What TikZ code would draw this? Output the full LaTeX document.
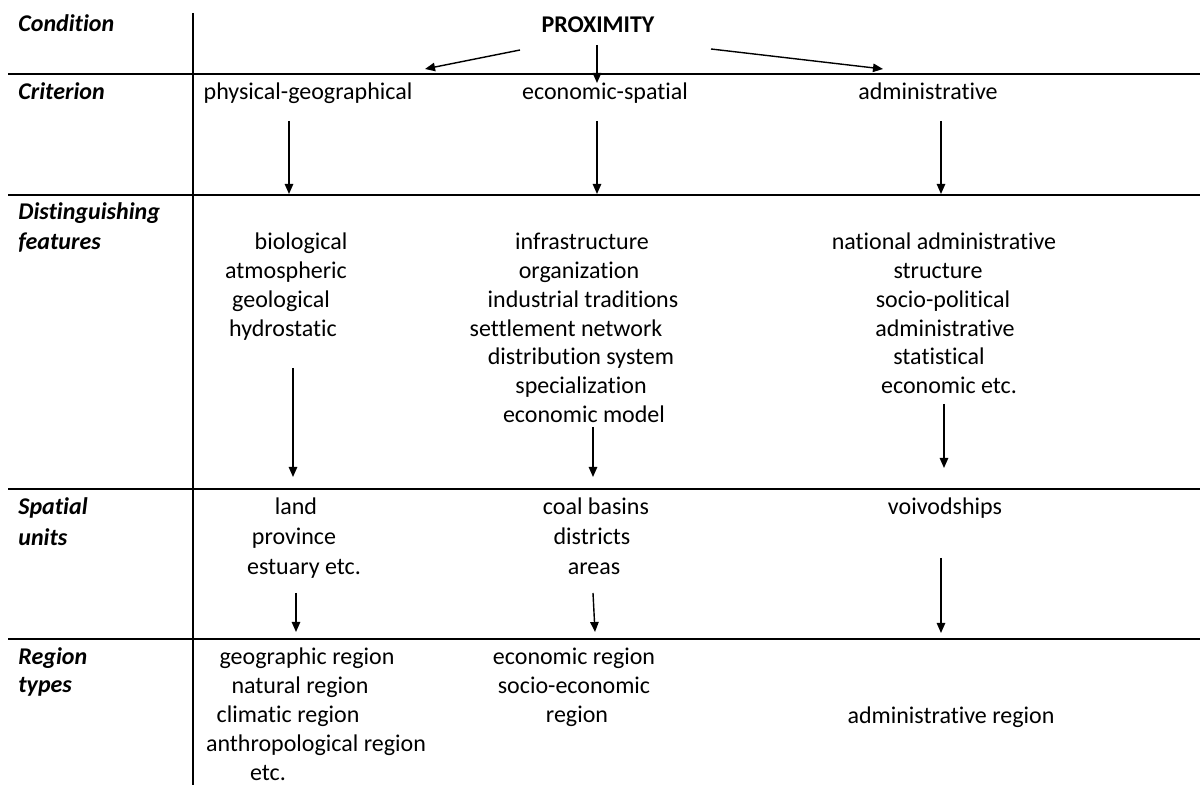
\documentclass[tikz,border=0pt]{standalone}
\usepackage{fontspec}
\setmainfont{Carlito}[Ligatures={NoCommon,NoRare}]
\usetikzlibrary{arrows.meta,positioning}

\begin{document}
\begin{tikzpicture}[x=0.5pt,y=-0.5pt,
  every node/.style={inner sep=0pt,font=\fontsize{12}{14}\selectfont},
  lbl/.style={anchor=base west,font=\fontsize{12}{14}\selectfont\bfseries\itshape},
  txt/.style={anchor=base},
  arr/.style={-{Triangle[length=5pt,width=4.2pt]},line width=0.7pt},
  gridline/.style={line width=1pt}]
\useasboundingbox (0,0) rectangle (1200,785);
% table rules
\draw[gridline] (193,13) -- (193,785);
\foreach \y in {74,195,489,639} \draw[gridline] (8,\y) -- (1200,\y);
% row labels
\node[lbl] (cond) at (18,32) {Condition};
\node[lbl] (crit) at (18,100) {Criterion};
\node[lbl] (dist1) at (18,220) {Distinguishing};
\node[lbl] (dist2) at (18,250) {features};
\node[lbl] (spat1) at (18,515) {Spatial};
\node[lbl] (spat2) at (18,546) {units};
\node[lbl] (reg1) at (18,665) {Region};
\node[lbl] (reg2) at (18,693) {types};
% condition and criteria
\node[txt,font=\fontsize{12}{14}\selectfont\bfseries] (prox) at (598,33) {PROXIMITY};
\node[txt] (phys) at (308,100) {physical-geographical};
\node[txt] (econ) at (605,100) {economic-spatial};
\node[txt] (admin) at (928,100) {administrative};
% distinguishing features
\foreach \t/\x [count=\i] in {biological/301,atmospheric/286,geological/281,hydrostatic/283}
  \node[txt] (feat-a\i) at (\x,{250+28.7*(\i-1)}) {\t};
\foreach \t/\x [count=\i] in {infrastructure/582,organization/579,industrial traditions/583,settlement network/566,distribution system/581,specialization/581,economic model/584}
  \node[txt] (feat-b\i) at (\x,{250+28.7*(\i-1)}) {\t};
\foreach \t/\x [count=\i] in {national administrative/944,structure/938,socio-political/943,administrative/945,statistical/939,economic etc./949}
  \node[txt] (feat-c\i) at (\x,{250+28.7*(\i-1)}) {\t};
% spatial units
\foreach \t/\x [count=\i] in {land/296,province/294,estuary etc./304}
  \node[txt] (unit-a\i) at (\x,{515+30*(\i-1)}) {\t};
\foreach \t/\x [count=\i] in {coal basins/596,districts/592,areas/594}
  \node[txt] (unit-b\i) at (\x,{515+30*(\i-1)}) {\t};
\node[txt] (unit-c1) at (945,515) {voivodships};
% region types
\foreach \t/\x [count=\i] in {geographic region/307,natural region/300,climatic region/288,anthropological region/316,etc./268}
  \node[txt] (type-a\i) at (\x,{665+29*(\i-1)}) {\t};
\foreach \t/\x [count=\i] in {economic region/574,socio-economic/574,region/577}
  \node[txt] (type-b\i) at (\x,{665+29*(\i-1)}) {\t};
\node[txt] (type-c1) at (951,724) {administrative region};
% arrow ends
\coordinate (px-l) at (520,50); \coordinate (px-l') at (425,69);
\coordinate (px-m) at (597,45); \coordinate (px-m') at (597,83);
\coordinate (px-r) at (711,49); \coordinate (px-r') at (883,69);
\coordinate (cr-a) at (289,121); \coordinate (cr-a') at (289,194);
\coordinate (cr-b) at (597,121); \coordinate (cr-b') at (597,194);
\coordinate (cr-c) at (941,121); \coordinate (cr-c') at (941,194);
\coordinate (ft-a) at (293,368); \coordinate (ft-a') at (293,477);
\coordinate (ft-b) at (593,427); \coordinate (ft-b') at (593,477);
\coordinate (ft-c) at (944,404); \coordinate (ft-c') at (944,468);
\coordinate (un-a) at (296,593); \coordinate (un-a') at (296,632);
\coordinate (un-b) at (593,593); \coordinate (un-b') at (595,632);
\coordinate (un-c) at (941,558); \coordinate (un-c') at (941,633);
% arrows
\foreach \p in {px-l,px-m,px-r,cr-a,cr-b,cr-c,ft-a,ft-b,ft-c,un-a,un-b,un-c}
  \draw[arr] (\p) -- (\p');
\end{tikzpicture}
\end{document}
